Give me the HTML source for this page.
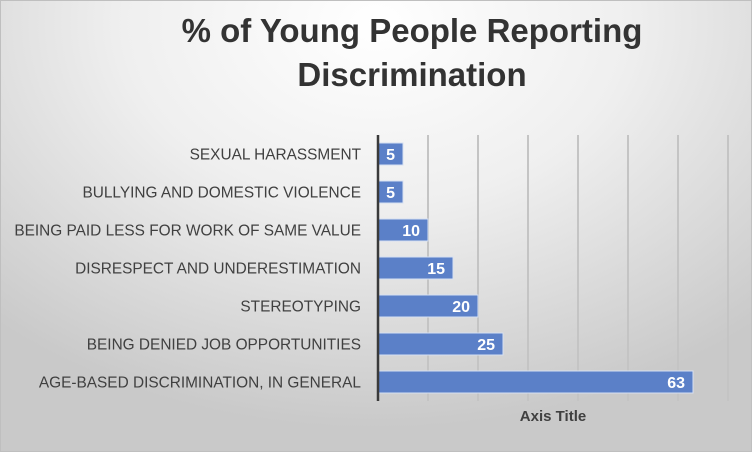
<!DOCTYPE html>
<html><head><meta charset="utf-8"><style>
html,body{margin:0;padding:0}
body{width:752px;height:452px;overflow:hidden;font-family:"Liberation Sans",sans-serif}
#chart{position:absolute;left:0;top:0;width:750px;height:450px;border:1px solid #bfbfbf;background:radial-gradient(ellipse 75% 90% at 50% 5%,#ffffff 0%,#efefef 45%,#c9c9c9 100%)}
</style></head><body>
<div id="chart">
<svg id="svg" width="750" height="450"></svg>
</div>
<script>
const categories=["SEXUAL HARASSMENT","BULLYING AND DOMESTIC VIOLENCE","BEING PAID LESS FOR WORK OF SAME VALUE","DISRESPECT AND UNDERESTIMATION","STEREOTYPING","BEING DENIED JOB OPPORTUNITIES","AGE-BASED DISCRIMINATION, IN GENERAL"];
const values=[5,5,10,15,20,25,63];
const gridTicks=[10,20,30,40,50,60,70];
const NS="http://www.w3.org/2000/svg";
const svg=document.getElementById('svg');
const x0=377,pxPer=5,top0=134,band=38,barH=22;
function xs(v){return x0+v*pxPer;}
function yc(i){return top0+band*i+band/2;}
function mk(t,a,p){const e=document.createElementNS(NS,t);for(const k in a)e.setAttribute(k,a[k]);(p||svg).appendChild(e);return e;}
const title=mk('text',{x:411,y:41,'text-anchor':'middle','font-size':33,'font-weight':'bold',fill:'#333'});


title.textContent='% of Young  People Reporting';
const title2=mk('text',{x:411,y:85,'text-anchor':'middle','font-size':33,'font-weight':'bold',fill:'#333'});


title2.textContent='Discrimination';
gridTicks.forEach(t=>{const g=mk('line',{x1:xs(t),x2:xs(t),y1:top0,y2:top0+band*7,stroke:'#c4c4c4','stroke-width':2});

});
categories.forEach((c,i)=>{
const l=mk('text',{x:360,y:yc(i)+5.5,'text-anchor':'end','font-size':15.4,fill:'#404040'});


l.textContent=c;
const b=mk('rect',{x:x0,y:yc(i)-barH/2,width:xs(values[i])-x0,height:barH,fill:'#5b80c8',stroke:'#d6e0f2','stroke-width':1});


const v=mk('text',{x:xs(values[i])-8,y:yc(i)+6,'text-anchor':'end','font-size':16,'font-weight':'bold',fill:'#fff'});


v.textContent=values[i];
});
const ax=mk('line',{x1:x0,x2:x0,y1:top0,y2:top0+band*7,stroke:'#3a3a3a','stroke-width':2.5});


const at=mk('text',{x:552,y:420,'text-anchor':'middle','font-size':15,'font-weight':'bold',fill:'#404040'});


at.textContent='Axis Title';
</script>
</body></html>
